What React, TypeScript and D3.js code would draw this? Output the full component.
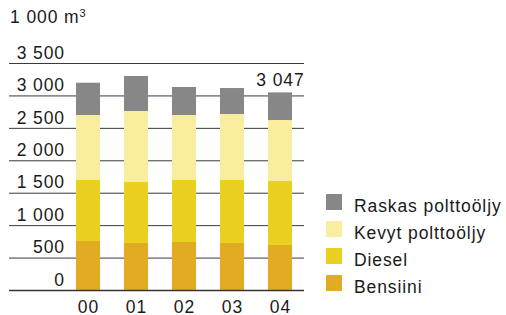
import * as React from "react";
import * as d3 from "d3";

const years = ["00", "01", "02", "03", "04"];
const seriesNames = ["Bensiini", "Diesel", "Kevyt polttoöljy", "Raskas polttoöljy"];
const bensiini = [755, 725, 740, 725, 694];
const diesel = [941, 940, 956, 971, 986];
const kevyt = [1002, 1095, 1002, 1017, 941];
const raskas = [498, 540, 432, 401, 426];
const yTicks = [0, 500, 1000, 1500, 2000, 2500, 3000, 3500];
const colors = ["#e1ac22", "#ebd11f", "#f9ee9e", "#878787"];

const width = 506;
const height = 315;
const font = "'Liberation Sans', Arial, Helvetica, sans-serif";
const fontSize = 17.5;
const spacing = 0.9;

const fmt = (v: number) => d3.format(",")(v).replace(/,/g, " ");

function drawChart(el: SVGSVGElement) {
  const svg = d3.select(el);
  svg.selectAll("*").remove();

  const rows = years.map((y, i) => ({
    year: y,
    Bensiini: bensiini[i],
    Diesel: diesel[i],
    "Kevyt polttoöljy": kevyt[i],
    "Raskas polttoöljy": raskas[i],
  }));
  const stacked = d3.stack<any>().keys(seriesNames)(rows);

  const x = d3.scaleBand().domain(years).range([64, 304]).paddingInner(0.5).paddingOuter(0.25);
  const y = d3.scaleLinear().domain([0, 3500]).range([290, 63]);

  const txt = (sel: any) =>
    sel
      .attr("font-family", font)
      .attr("font-size", fontSize)
      .attr("letter-spacing", spacing)
      .attr("fill", "#1a1a1a");

  // gridlines behind the bars
  svg
    .append("g")
    .selectAll("line")
    .data(yTicks.filter((t) => t > 0))
    .enter()
    .append("line")
    .attr("x1", 9)
    .attr("x2", 304)
    .attr("y1", (d) => y(d) + 0.5)
    .attr("y2", (d) => y(d) + 0.5)
    .attr("stroke", "#3a3a3a")
    .attr("stroke-width", 1);

  svg
    .append("g")
    .selectAll("text")
    .data(yTicks)
    .enter()
    .append("text")
    .attr("x", 65)
    .attr("y", (d) => y(d) - 4.3)
    .attr("text-anchor", "end")
    .call(txt)
    .text((d) => fmt(d));

  stacked.forEach((layer, li) => {
    svg
      .append("g")
      .attr("fill", colors[li])
      .selectAll("rect")
      .data(layer)
      .enter()
      .append("rect")
      .attr("x", (d: any) => x(d.data.year)!)
      .attr("width", x.bandwidth())
      .attr("y", (d) => y(d[1]))
      .attr("height", (d) => y(d[0]) - y(d[1]));
  });

  // baseline over the bars
  svg
    .append("line")
    .attr("x1", 9)
    .attr("x2", 304)
    .attr("y1", y(0) + 0.5)
    .attr("y2", y(0) + 0.5)
    .attr("stroke", "#333")
    .attr("stroke-width", 1.3);

  svg
    .append("g")
    .selectAll("text")
    .data(years)
    .enter()
    .append("text")
    .attr("x", (d) => x(d)! + x.bandwidth() / 2 + spacing / 2)
    .attr("y", 313)
    .attr("text-anchor", "middle")
    .call(txt)
    .text((d) => d);

  // total label on last bar
  const last = years.length - 1;
  const lastTotal = bensiini[last] + diesel[last] + kevyt[last] + raskas[last];
  svg
    .append("text")
    .attr("x", x(years[last])! + x.bandwidth() / 2 + spacing / 2)
    .attr("y", y(lastTotal) - 6)
    .attr("text-anchor", "middle")
    .call(txt)
    .text(fmt(3047));

  // unit title
  const title = svg.append("text").attr("x", 10).attr("y", 23).call(txt);
  title.append("tspan").text("1 000 m");
  title.append("tspan").attr("font-size", 11).attr("dy", -6).text("3");

  // legend, top entry is the top of the stack
  const legend = svg
    .append("g")
    .selectAll("g")
    .data(seriesNames.slice().reverse())
    .enter()
    .append("g")
    .attr("transform", (_d, i) => `translate(326, ${194 + i * 27})`);
  legend
    .append("rect")
    .attr("width", 16)
    .attr("height", 16)
    .attr("fill", (d) => colors[seriesNames.indexOf(d)]);
  legend
    .append("text")
    .attr("x", 28)
    .attr("y", 17.5)
    .call(txt)
    .text((d) => d);
}

export default function App() {
  const ref = React.useRef<SVGSVGElement>(null);
  React.useEffect(() => {
    if (ref.current) drawChart(ref.current);
  }, []);
  return (
    <svg
      ref={ref}
      width={width}
      height={height}
      style={{ position: "absolute", left: 0, top: 0, background: "#fff" }}
    />
  );
}
